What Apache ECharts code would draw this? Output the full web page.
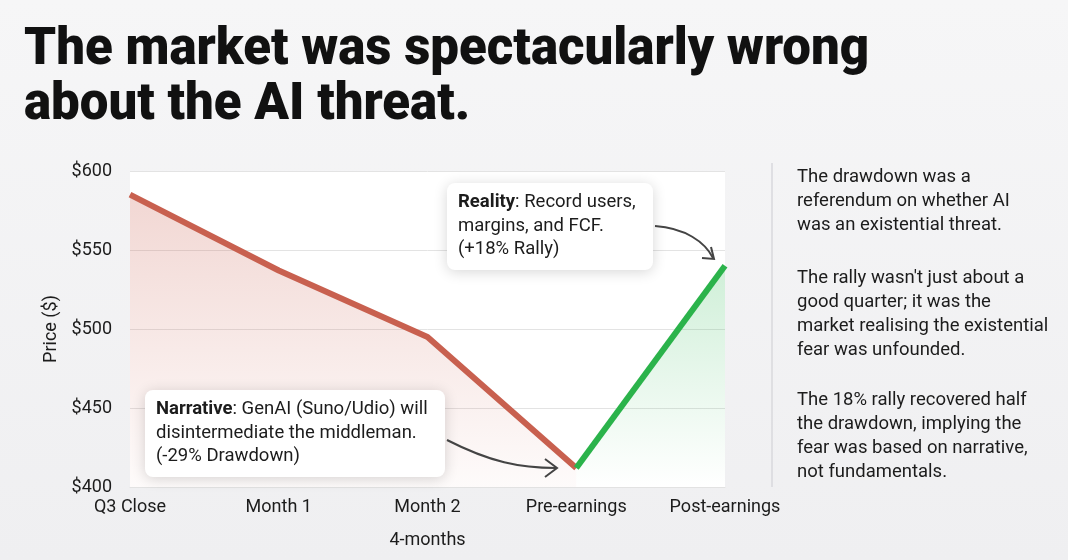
<!DOCTYPE html>
<html>
<head>
<meta charset="utf-8">
<script src="https://cdn.jsdelivr.net/npm/echarts@6/dist/echarts.min.js"></script>
<style>
html,body{margin:0;padding:0;background:#f1f1f3;}
#c{width:1068px;height:560px;background:linear-gradient(180deg,#f6f6f7 0%,#efeff1 100%);}
</style>
</head>
<body>
<div id="c"></div>
<script>
const categories = ['Q3 Close', 'Month 1', 'Month 2', 'Pre-earnings', 'Post-earnings'];
const drawdownValues = [585, 537, 495, 412, null];
const rallyValues = [null, null, null, 412, 540];
const yTicks = { min: 400, max: 600, interval: 50 };
const titleLines = ['The market was spectacularly wrong', 'about the AI threat.'];
const sideParagraphs = [
  ['The drawdown was a', 'referendum on whether AI', 'was an existential threat.'],
  ["The rally wasn't just about a", 'good quarter; it was the', 'market realising the existential', 'fear was unfounded.'],
  ['The 18% rally recovered half', 'the drawdown, implying the', 'fear was based on narrative,', 'not fundamentals.']
];
const realityNote = ['{b|Reality}: Record users,', 'margins, and FCF.', '(+18% Rally)'];
const narrativeNote = ['{b|Narrative}: GenAI (Suno/Udio) will', 'disintermediate the middleman.', '(-29% Drawdown)'];

const chart = echarts.init(document.getElementById('c'), null, { renderer: 'canvas' });
const FONT = 'Roboto, "Noto Sans", sans-serif';
const txt = '#1c1c1c';
const FS = 18.5;

const paraTops = [165, 266, 388];
const sideGraphics = sideParagraphs.map((p, i) => ({
  type: 'text', left: 797, top: paraTops[i],
  style: { text: p.join('\n'), font: FS + 'px ' + FONT, fill: txt, lineHeight: 24 }
}));

function noteBox(x, y, w, h, lines) {
  return [
    { type: 'rect', shape: { x: x, y: y, width: w, height: h, r: 8 },
      style: { fill: '#ffffff', shadowBlur: 14, shadowColor: 'rgba(0,0,0,0.16)', shadowOffsetY: 2 }, z: 10 },
    { type: 'text', x: x + 11, y: y + 8, z: 11,
      style: { text: lines.join('\n'), font: FS + 'px ' + FONT, fill: txt, lineHeight: 23.5,
        rich: { b: { fontWeight: 'bold', fontSize: FS, fontFamily: 'Roboto', fill: txt, lineHeight: 23.5 } } } }
  ];
}

const arrowStyle = { stroke: '#444', lineWidth: 2, fill: null };

chart.setOption({
  backgroundColor: 'transparent',
  animation: false,
  title: {
    text: titleLines.join('\n'), left: 19, top: 19,
    textStyle: { fontFamily: 'Roboto', fontWeight: 900, fontSize: 51, lineHeight: 55, color: '#111' }
  },
  grid: { left: 130, right: 343, top: 171, bottom: 73, show: true, backgroundColor: '#ffffff', borderWidth: 0 },
  xAxis: {
    type: 'category', data: categories, boundaryGap: false,
    name: '4-months', nameLocation: 'middle', nameGap: 44,
    nameTextStyle: { fontSize: 18, color: txt, fontFamily: FONT },
    axisLine: { lineStyle: { color: '#e2e2e2' } }, axisTick: { show: false },
    axisLabel: { fontSize: 18, color: txt, fontFamily: FONT, margin: 11 }
  },
  yAxis: {
    type: 'value', min: yTicks.min, max: yTicks.max, interval: yTicks.interval,
    name: 'Price ($)', nameLocation: 'middle', nameGap: 68, nameRotate: 90,
    nameTextStyle: { fontSize: 18, color: txt, fontFamily: FONT },
    axisLabel: { formatter: '${value}', fontSize: 18, color: txt, fontFamily: FONT, margin: 18 },
    axisLine: { show: false }, axisTick: { show: false },
    splitLine: { lineStyle: { color: '#e3e3e3', width: 1 } }
  },
  series: [
    { type: 'line', data: drawdownValues, symbol: 'none', connectNulls: false,
      lineStyle: { color: '#c8604f', width: 6 },
      areaStyle: { color: new echarts.graphic.LinearGradient(0, 0, 0, 1, [
        { offset: 0, color: 'rgba(205,105,90,0.38)' }, { offset: 1, color: 'rgba(205,105,90,0.04)' }]) } },
    { type: 'line', data: rallyValues, symbol: 'none', connectNulls: false,
      lineStyle: { color: '#2bb34b', width: 6 },
      areaStyle: { color: new echarts.graphic.LinearGradient(0, 0, 0, 1, [
        { offset: 0, color: 'rgba(60,190,95,0.35)' }, { offset: 1, color: 'rgba(60,190,95,0.0)' }]) } }
  ],
  graphic: [
    { type: 'line', shape: { x1: 772, y1: 163, x2: 772, y2: 487 }, style: { stroke: '#d9d9dc', lineWidth: 1.5 } },
    ...sideGraphics,
    ...noteBox(447, 183, 206, 87, realityNote),
    ...noteBox(145, 390, 300, 87, narrativeNote),
    { type: 'bezierCurve', z: 12, shape: { x1: 655, y1: 226, cpx1: 685, cpy1: 228, cpx2: 705, cpy2: 242, x2: 713, y2: 258 }, style: arrowStyle },
    { type: 'polyline', z: 12, shape: { points: [[702, 258], [714, 259], [711, 247]] }, style: arrowStyle },
    { type: 'bezierCurve', z: 12, shape: { x1: 447, y1: 440, cpx1: 490, cpy1: 462, cpx2: 520, cpy2: 468, x2: 556, y2: 468 }, style: arrowStyle },
    { type: 'polyline', z: 12, shape: { points: [[545, 459], [557, 468], [545, 477]] }, style: arrowStyle }
  ]
});
</script>
</body>
</html>
